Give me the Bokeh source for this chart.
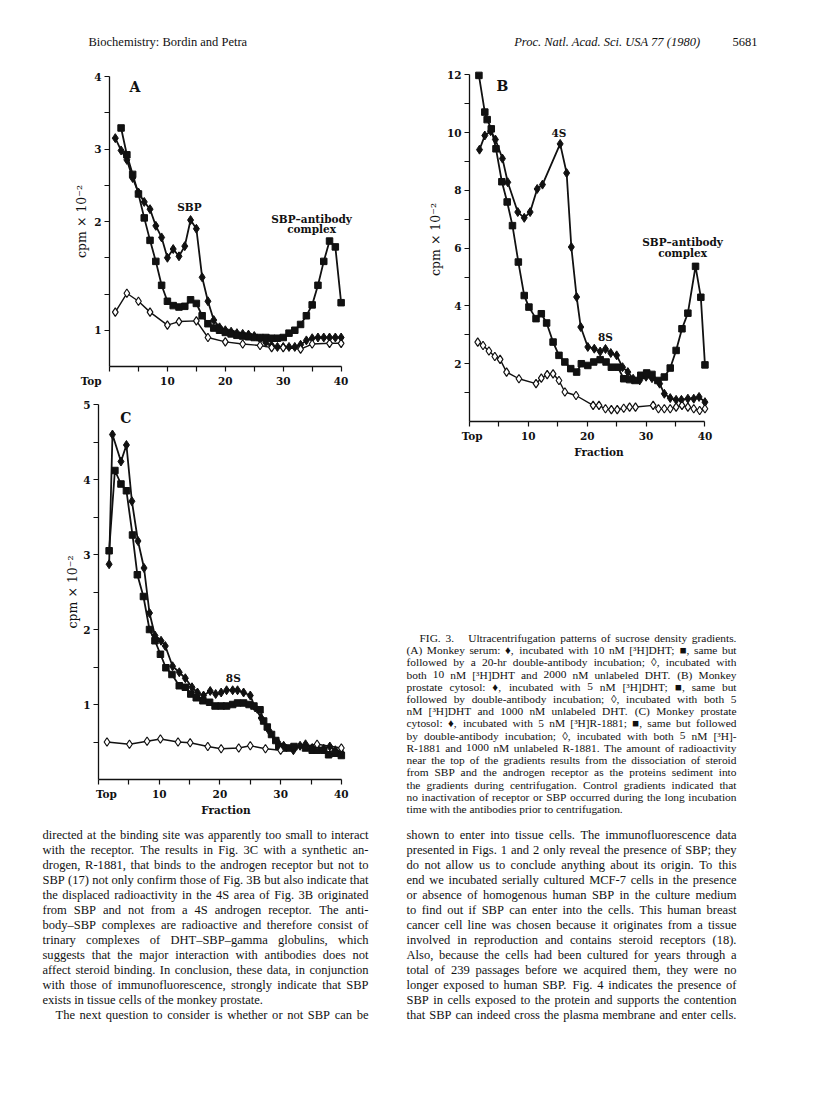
from bokeh.plotting import figure
from bokeh.models import Range1d, FixedTicker, Label
from bokeh.layouts import column, row
from bokeh.core.properties import value
from bokeh.embed import file_html
from bokeh.resources import INLINE

INK = "#111111"

# ---------------- data (fraction number, cpm x 10^-2) ----------------
# Panel A: monkey serum
A_dia_x = [1, 2, 3, 4, 5, 6, 7, 8, 9, 10, 11, 12, 13, 14, 15, 16, 17, 18, 19, 20,
           21, 22, 23, 24, 25, 26, 27, 28, 29, 30, 31, 32, 33, 34, 35, 36, 37, 38, 39, 40]
A_dia_y = [3.15, 2.98, 2.85, 2.6, 2.40, 2.27, 2.17, 1.94, 1.78, 1.50, 1.62, 1.52, 1.66, 2.02, 1.90, 1.23, 0.90, 0.64, 0.54, 0.50,
           0.48, 0.46, 0.45, 0.44, 0.42, 0.38, 0.33, 0.29, 0.27, 0.27, 0.27, 0.27, 0.30, 0.36, 0.39, 0.40, 0.40, 0.40, 0.40, 0.40]
A_sq_x = [2, 3, 4, 5, 6, 7, 8, 9, 10, 11, 12, 13, 14, 15, 16, 17, 18, 19, 20, 21,
          22, 23, 24, 25, 26, 27, 28, 29, 30, 31, 32, 33, 34, 35, 36, 37, 38, 39, 40]
A_sq_y = [3.29, 2.92, 2.65, 2.38, 2.05, 1.74, 1.45, 1.12, 0.90, 0.84, 0.82, 0.83, 0.92, 0.87, 0.70, 0.59, 0.53, 0.50, 0.47, 0.45,
          0.43, 0.42, 0.41, 0.40, 0.40, 0.40, 0.39, 0.39, 0.40, 0.46, 0.50, 0.58, 0.70, 0.85, 1.12, 1.45, 1.73, 1.65, 0.88]
A_open_x = [1, 3, 5, 7, 10, 12, 15, 17, 20, 23, 26, 28, 30, 33, 35, 38, 40]
A_open_y = [0.75, 1.01, 0.90, 0.75, 0.57, 0.62, 0.63, 0.40, 0.34, 0.31, 0.29, 0.26, 0.26, 0.24, 0.31, 0.32, 0.32]

# Panel B: monkey prostate cytosol
B_dia_x = [1.7, 2.6, 3.6, 4.4, 5.6, 6.5, 8.2, 9.3, 10.3, 11.5, 12.4, 15.4, 16.5, 17.3, 18.2, 18.9, 20.1, 21.2, 22.2,
           23.1, 24.0, 25.0, 26.0, 26.9, 27.8, 28.9, 30.0, 31.0, 32.3, 33.1, 34.1, 35.1, 36.0, 37.1, 38.1, 39.0, 40.0]
B_dia_y = [9.41, 9.9, 10.05, 9.76, 9.1, 8.28, 7.25, 7.05, 7.25, 8.05, 8.2, 9.61, 8.6, 6.04, 4.31, 3.27, 2.58, 2.52, 2.42,
           2.51, 2.37, 2.29, 1.88, 1.71, 1.48, 1.42, 1.55, 1.50, 1.31, 0.96, 0.81, 0.75, 0.75, 0.79, 0.79, 0.85, 0.67]
B_sq_x = [1.6, 2.6, 3.0, 3.7, 4.5, 5.5, 6.4, 7.3, 8.3, 9.3, 10.1, 11.3, 12.2, 13.1, 14.2, 15.2, 16.2, 17.2, 18.2, 19.0,
          20.1, 21.1, 22.2, 23.2, 24.1, 25.2, 26.2, 27.2, 28.1, 29.1, 30.1, 31.0, 32.0, 33.1, 34.1, 35.1, 36.1, 37.1, 38.4, 39.3, 40.0]
B_sq_y = [11.98, 10.71, 10.45, 10.13, 9.44, 8.3, 7.6, 6.78, 5.52, 4.36, 3.96, 3.56, 3.73, 3.41, 2.75, 2.29, 2.06, 1.83, 1.71, 2.0,
          1.94, 2.06, 2.14, 2.06, 1.88, 1.88, 1.48, 1.45, 1.42, 1.6, 1.68, 1.63, 1.42, 1.54, 1.85, 2.46, 3.21, 3.75, 5.37, 4.3, 1.96]
B_open_x = [1.4, 2.3, 3.3, 4.3, 5.2, 6.3, 8.4, 11.3, 12.2, 13.2, 14.2, 15.2, 16.2, 18.1, 21.0, 22.0, 23.1, 24.1, 25.1, 26.2,
            27.2, 28.2, 31.2, 32.1, 33.1, 34.1, 35.1, 36.1, 37.1, 38.1, 39.1, 40.0]
B_open_y = [2.75, 2.63, 2.44, 2.25, 2.15, 1.71, 1.48, 1.31, 1.5, 1.62, 1.65, 1.42, 1.02, 0.9, 0.56, 0.56, 0.44, 0.41, 0.41, 0.46,
            0.5, 0.5, 0.56, 0.44, 0.44, 0.44, 0.5, 0.56, 0.5, 0.44, 0.38, 0.44]

# Panel C: monkey prostate cytosol, R-1881
C_dia_x = [1.75, 2.3, 3.7, 4.6, 5.5, 6.5, 7.5, 8.4, 9.3, 10.3, 11.0, 12.2, 13.3, 14.3, 15.4, 16.3, 17.3, 18.4, 19.3, 20.2,
           21.1, 22.1, 22.9, 23.9, 25.0, 25.8, 26.8, 28.1, 29.5, 30.5, 32.1, 33.2, 34.1, 35.2, 36.0, 37.1, 38.1, 39.0, 40.0]
C_dia_y = [2.87, 4.6, 4.24, 4.46, 3.71, 3.18, 2.82, 2.22, 1.92, 1.85, 1.78, 1.51, 1.43, 1.35, 1.23, 1.16, 1.12, 1.18, 1.14, 1.16,
           1.19, 1.19, 1.19, 1.16, 1.12, 0.96, 0.82, 0.65, 0.5, 0.45, 0.39, 0.45, 0.47, 0.42, 0.42, 0.41, 0.44, 0.39, 0.36]
C_sq_x = [1.75, 2.7, 3.7, 4.6, 5.6, 6.4, 7.4, 8.4, 9.3, 10.2, 11.1, 12.1, 13.3, 14.3, 15.2, 16.1, 17.2, 18.3, 19.2, 20.2,
          21.1, 22.1, 22.9, 23.9, 24.8, 25.6, 26.6, 27.2, 27.8, 28.5, 29.2, 29.7, 30.5, 31.4, 32.2, 34.1, 35.2, 36.0, 37.1, 37.9, 39.0, 40.0]
C_sq_y = [3.05, 4.12, 3.94, 3.85, 3.26, 2.73, 2.44, 2.0, 1.85, 1.67, 1.49, 1.4, 1.25, 1.23, 1.14, 1.09, 1.05, 1.03, 0.98, 0.98,
          0.98, 1.0, 1.02, 1.02, 1.0, 0.98, 0.93, 0.78, 0.7, 0.6, 0.52, 0.44, 0.42, 0.42, 0.44, 0.42, 0.39, 0.39, 0.39, 0.33, 0.35, 0.32]
C_open_x = [1.4, 5.1, 8.0, 10.2, 13.1, 15.1, 18.0, 20.2, 23.1, 25.0, 27.5, 30.0, 36.0, 40.0]
C_open_y = [0.5, 0.47, 0.51, 0.54, 0.5, 0.49, 0.44, 0.41, 0.42, 0.45, 0.41, 0.39, 0.47, 0.42]

# tick labels ("Top" padded with wide spaces so it sits where the original prints it)
X_TICKS = [0, 5, 10, 15, 20, 25, 30, 35, 40]
A_TOP = "Top\u2003\u2003\u2003\u2002"
B_TOP = "\u2002Top"
C_TOP = "\u2003\u2002Top"
X_LABELS = {0: "Top", 5: "", 10: "10", 15: "", 20: "20", 25: "", 30: "30", 35: "", 40: "40"}
A_Y_TICKS = [0.5, 1, 1.5, 2, 2.5, 3, 3.5, 4]
A_Y_LABELS = {0.5: "1", 1: "", 1.5: "", 2: "2", 2.5: "", 3: "3", 3.5: "", 4: "4"}
B_Y_TICKS = [1, 2, 3, 4, 5, 6, 7, 8, 9, 10, 11, 12]
B_Y_LABELS = {1: "", 2: "2", 3: "", 4: "4", 5: "", 6: "6", 7: "", 8: "8", 9: "", 10: "10", 11: "", 12: "12"}
C_Y_TICKS = [0.5, 1, 1.5, 2, 2.5, 3, 3.5, 4, 4.5, 5]
C_Y_LABELS = {0.5: "", 1: "1", 1.5: "", 2: "2", 2.5: "", 3: "3", 3.5: "", 4: "4", 4.5: "", 5: "5"}
Y_TITLE = "cpm × 10⁻²"

# ---------------- text ----------------
HEADER_LEFT = "Biochemistry:  Bordin and Petra"
HEADER_MID = "Proc. Natl. Acad. Sci. USA 77 (1980)"
HEADER_PAGE = "5681"

CAPTION = [
    "FIG. 3.   Ultracentrifugation patterns of sucrose density gradients.",
    "(A) Monkey serum: ♦, incubated with 10 nM [³H]DHT; ■, same but",
    "followed by a 20-hr double-antibody incubation; ◊, incubated with",
    "both 10 nM [³H]DHT and 2000 nM unlabeled DHT. (B) Monkey",
    "prostate cytosol: ♦, incubated with 5 nM [³H]DHT; ■, same but",
    "followed by double-antibody incubation; ◊, incubated with both 5",
    "nM [³H]DHT and 1000 nM unlabeled DHT. (C) Monkey prostate",
    "cytosol: ♦, incubated with 5 nM [³H]R-1881; ■, same but followed",
    "by double-antibody incubation; ◊, incubated with both 5 nM [³H]-",
    "R-1881 and 1000 nM unlabeled R-1881. The amount of radioactivity",
    "near the top of the gradients results from the dissociation of steroid",
    "from SBP and the androgen receptor as the proteins sediment into",
    "the gradients during centrifugation. Control gradients indicated that",
    "no inactivation of receptor or SBP occurred during the long incubation",
    "time with the antibodies prior to centrifugation.",
]
BODY_LEFT = [
    "directed at the binding site was apparently too small to interact",
    "with the receptor. The results in Fig. 3C with a synthetic an-",
    "drogen, R-1881, that binds to the androgen receptor but not to",
    "SBP (17) not only confirm those of Fig. 3B but also indicate that",
    "the displaced radioactivity in the 4S area of Fig. 3B originated",
    "from SBP and not from a 4S androgen receptor. The anti-",
    "body–SBP complexes are radioactive and therefore consist of",
    "trinary complexes of DHT–SBP–gamma globulins, which",
    "suggests that the major interaction with antibodies does not",
    "affect steroid binding. In conclusion, these data, in conjunction",
    "with those of immunofluorescence, strongly indicate that SBP",
    "exists in tissue cells of the monkey prostate.",
    "The next question to consider is whether or not SBP can be",
]
BODY_RIGHT = [
    "shown to enter into tissue cells. The immunofluorescence data",
    "presented in Figs. 1 and 2 only reveal the presence of SBP; they",
    "do not allow us to conclude anything about its origin. To this",
    "end we incubated serially cultured MCF-7 cells in the presence",
    "or absence of homogenous human SBP in the culture medium",
    "to find out if SBP can enter into the cells. This human breast",
    "cancer cell line was chosen because it originates from a tissue",
    "involved in reproduction and contains steroid receptors (18).",
    "Also, because the cells had been cultured for years through a",
    "total of 239 passages before we acquired them, they were no",
    "longer exposed to human SBP. Fig. 4 indicates the presence of",
    "SBP in cells exposed to the protein and supports the contention",
    "that SBP can indeed cross the plasma membrane and enter cells.",
]

# Times / Liberation Serif advance widths (per 1000 em)
TW = {' ': 250, '!': 333, '"': 408, '#': 500, '$': 500, '%': 833, '&': 778, "'": 180, '(': 333, ')': 333,
      '*': 500, '+': 564, ',': 250, '-': 333, '.': 250, '/': 278, ':': 278, ';': 278, '?': 444,
      '[': 333, ']': 333, '–': 500, '—': 1000, '³': 300, '♦': 604, '■': 604, '◊': 494, '×': 564}
for c in "0123456789":
    TW[c] = 500
TW.update(dict(zip("ABCDEFGHIJKLMNOPQRSTUVWXYZ",
                   [722, 667, 667, 722, 611, 556, 722, 722, 333, 389, 722, 611, 889, 722, 722, 556, 722, 667,
                    556, 611, 722, 722, 944, 722, 722, 611])))
TW.update(dict(zip("abcdefghijklmnopqrstuvwxyz",
                   [444, 500, 444, 500, 444, 333, 500, 500, 278, 278, 500, 278, 778, 500, 500, 500, 500, 333,
                    389, 278, 500, 500, 722, 500, 500, 444])))


def em(s):
    return sum(TW.get(ch, 520) for ch in s) / 1000.0


def fit_size(lines, width, indents, cap):
    best = cap
    for i, ln in enumerate(lines):
        best = min(best, 0.995 * (width - indents.get(i, 0)) / em(ln))
    return best


def set_lines(lines, x0, x1, base0, step, fs, ragged, indents):
    xs, ys, ts = [], [], []
    for i, ln in enumerate(lines):
        words = ln.split(" ")
        left = x0 + indents.get(i, 0)
        wds = [em(w) * fs for w in words]
        if i in ragged or len(words) < 2:
            gap = 0.25 * fs
        else:
            gap = (x1 - left - sum(wds)) / (len(words) - 1)
        x = left
        y = base0 + i * step
        for w, wd in zip(words, wds):
            if w:
                xs.append(x)
                ys.append(y)
                ts.append(w)
            x += wd + gap
    return xs, ys, ts


def text_fig(w, h, x0, y0):
    p = figure(width=w, height=h, x_range=Range1d(x0, x0 + w), y_range=Range1d(y0 + h, y0),
               output_backend="svg", toolbar_location=None, tools="", title=None,
               x_axis_type=None, y_axis_type=None, min_border=0)
    p.frame_align = False
    p.outline_line_color = None
    p.background_fill_color = "white"
    p.border_fill_color = "white"
    return p


def chart(w, h, ml, mt, fw, fh, xr, yr, yticks, ylabels, ybounds, xtitle, ytitle_standoff, top_text):
    mr = w - ml - fw
    mb = h - mt - fh
    p = figure(width=w, height=h, x_range=Range1d(*xr), y_range=Range1d(*yr),
               output_backend="svg", toolbar_location=None, tools="", title=None,
               min_border_left=ml, min_border_right=mr, min_border_top=mt, min_border_bottom=mb)
    p.frame_align = False
    p.grid.visible = False
    p.outline_line_color = None
    p.background_fill_color = "white"
    p.border_fill_color = "white"
    for ax in (p.xaxis[0], p.yaxis[0]):
        ax.axis_line_color = INK
        ax.axis_line_width = 1.3
        ax.major_tick_line_color = INK
        ax.major_tick_line_width = 1.2
        ax.major_tick_out = 5
        ax.major_tick_in = 0
        ax.minor_tick_line_color = None
        ax.major_label_text_font = "DejaVu Serif"
        ax.major_label_text_font_style = "bold"
        ax.major_label_text_font_size = "10.5px"
        ax.major_label_text_color = INK
        ax.major_label_standoff = 3
    xa = p.xaxis[0]
    xa.ticker = FixedTicker(ticks=X_TICKS)
    labels = dict(X_LABELS)
    labels[0] = top_text
    xa.major_label_overrides = labels
    xa.bounds = (0, 40)
    if xtitle:
        xa.axis_label = xtitle
        xa.axis_label_text_font = "DejaVu Serif"
        xa.axis_label_text_font_style = "bold"
        xa.axis_label_text_font_size = "10.5px"
        xa.axis_label_text_color = INK
        xa.axis_label_standoff = 1
    ya = p.yaxis[0]
    ya.ticker = FixedTicker(ticks=yticks)
    ya.major_label_overrides = ylabels
    ya.bounds = ybounds
    ya.axis_label = Y_TITLE
    ya.axis_label_text_font = "DejaVu Serif"
    ya.axis_label_text_font_style = "normal"
    ya.axis_label_text_font_size = "12.5px"
    ya.axis_label_text_color = INK
    ya.axis_label_standoff = ytitle_standoff
    return p


def series(p, xd, yd, xs, ys, xo, yo):
    p.line(xd, yd, line_color=INK, line_width=1.8)
    p.line(xs, ys, line_color=INK, line_width=1.8)
    p.line(xo, yo, line_color=INK, line_width=1.4)
    p.scatter(xd, yd, marker="diamond", size=9, fill_color=INK, line_color=INK)
    p.scatter(xs, ys, marker="square", size=6.5, fill_color=INK, line_color=INK)
    p.scatter(xo, yo, marker="diamond", size=8.5, fill_color="white", line_color=INK, line_width=1.2)


def lab(p, x, y, t, size="10.5px"):
    p.add_layout(Label(x=x, y=y, text=t, text_font="DejaVu Serif", text_font_style="bold",
                       text_font_size=size, text_color=INK, text_align="center", text_baseline="middle"))


# page coordinates: the Bokeh page starts at (0, 0)
# ---------------- header ----------------
head = text_fig(808, 52, 0, 0)
head.text(x=[88], y=[41], text=[HEADER_LEFT], text_font=value("Liberation Serif"),
          text_font_size="12.5px", text_color=INK, text_align="left", text_baseline="alphabetic")
head.text(x=[700], y=[41], text=[HEADER_MID], text_font=value("Liberation Serif"),
          text_font_style="italic", text_font_size="12.5px", text_color=INK,
          text_align="right", text_baseline="alphabetic")
head.text(x=[757], y=[41], text=[HEADER_PAGE], text_font=value("Liberation Serif"),
          text_font_size="12.5px", text_color=INK, text_align="right", text_baseline="alphabetic")

# ---------------- panel A ----------------
pA = chart(388, 343, 109, 24, 249, 290, (0, 43), (0, 4), A_Y_TICKS, A_Y_LABELS, (0, 4), None, 2, A_TOP)
series(pA, A_dia_x, A_dia_y, A_sq_x, A_sq_y, A_open_x, A_open_y)
lab(pA, 4.4, 3.85, "A", "14px")
lab(pA, 13.8, 2.2, "SBP")
lab(pA, 34.9, 2.04, "SBP–antibody")
lab(pA, 34.9, 1.89, "complex")

# ---------------- panel C ----------------
pC = chart(388, 425, 98, 9, 255, 375, (0, 42), (0, 5), C_Y_TICKS, C_Y_LABELS, (0, 5), "Fraction", 0, C_TOP)
series(pC, C_dia_x, C_dia_y, C_sq_x, C_sq_y, C_open_x, C_open_y)
lab(pC, 4.5, 4.82, "C", "14px")
lab(pC, 22.2, 1.35, "8S")

# ---------------- panel B ----------------
pB = chart(420, 416, 81, 5, 259, 364, (0, 44), (0, 12.6), B_Y_TICKS, B_Y_LABELS, (0, 12), "Fraction", 1, B_TOP)
series(pB, B_dia_x, B_dia_y, B_sq_x, B_sq_y, B_open_x, B_open_y)
lab(pB, 5.6, 11.63, "B", "14px")
lab(pB, 15.2, 9.98, "4S")
lab(pB, 23.1, 2.92, "8S")
lab(pB, 36.2, 6.21, "SBP–antibody")
lab(pB, 36.2, 5.84, "complex")

# ---------------- caption ----------------
cap = text_fig(420, 352, 388, 468)
cap_ind = {0: 13}
cfs = fit_size(CAPTION, 330, cap_ind, 11.4)
cx, cy, ct = set_lines(CAPTION, 406, 736, 637.5, 12.21, cfs, {len(CAPTION) - 1}, cap_ind)
cap.text(x=cx, y=cy, text=ct, text_font=value("Liberation Serif"), text_font_size=f"{cfs:.2f}px",
         text_color=INK, text_align="left", text_baseline="alphabetic")

# ---------------- body ----------------
body = text_fig(808, 265, 0, 820)
l_ind = {12: 13}
bfs = min(fit_size(BODY_LEFT, 326, l_ind, 12.8), fit_size(BODY_RIGHT, 330, {}, 12.8))
lx, ly, lt = set_lines(BODY_LEFT, 42, 368, 834, 15.08, bfs, {11}, l_ind)
rx, ry, rt = set_lines(BODY_RIGHT, 406, 736, 834, 15.08, bfs, set(), {})
body.text(x=lx + rx, y=ly + ry, text=lt + rt, text_font=value("Liberation Serif"),
          text_font_size=f"{bfs:.2f}px", text_color=INK, text_align="left", text_baseline="alphabetic")

page = column(head, row(column(pA, pC), column(pB, cap)), body)
open("out.html", "w").write(file_html(page, INLINE))
